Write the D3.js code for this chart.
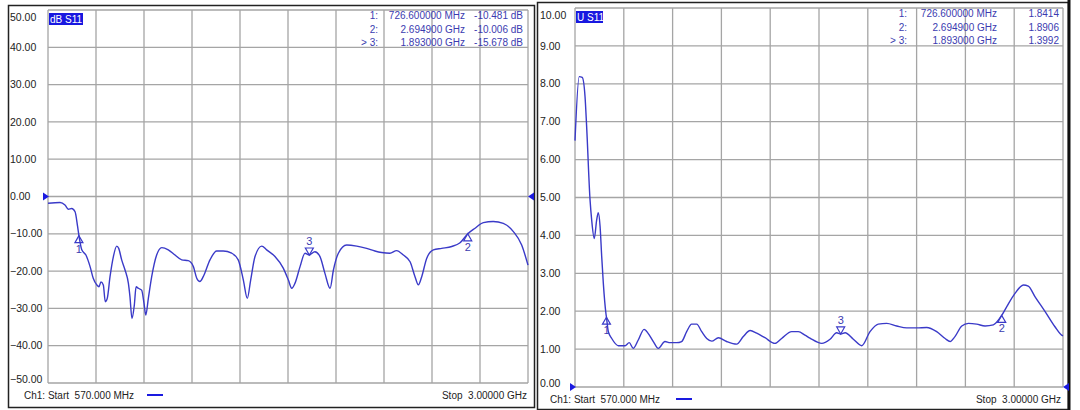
<!DOCTYPE html>
<html>
<head>
<meta charset="utf-8">
<script src="https://cdn.jsdelivr.net/npm/d3@7"></script>
<style>
  body { margin: 0; background: #fff; }
  svg { display: block; font-family: "Liberation Sans", Arial, sans-serif; }
</style>
</head>
<body>
<div id="container"></div>
<script>
/* DATA (frequency in MHz) */
const dbFreq = [570, 631, 656, 673, 690, 707, 720, 726.6, 741, 762, 783, 799, 817, 828, 838, 850, 860, 870, 884, 901,
  918, 928, 943, 960, 977, 985, 995, 1007, 1016, 1027, 1044, 1056, 1065, 1078, 1095, 1120, 1146, 1179, 1213, 1247,
  1280, 1306, 1323, 1339, 1356, 1390, 1424, 1457, 1500, 1533, 1559, 1579, 1596, 1618, 1652, 1677, 1719, 1761, 1787, 1804,
  1820, 1846, 1871, 1893, 1921, 1947, 1972, 1998, 2015, 2040, 2082, 2133, 2183, 2225, 2259, 2301, 2335, 2369, 2403, 2428,
  2445, 2462, 2487, 2521, 2563, 2614, 2656, 2694.9, 2732, 2774, 2824, 2875, 2926, 2968, 3000]
const dbValues = [-1.8, -1.6, -2.3, -3.4, -3.2, -4.1, -8.1, -10.48, -14.3, -15.7, -18.8, -21.9, -23.7, -24.2, -22.9, -23.7, -28.2, -27.3, -21.5, -16.1,
  -13.3, -13.9, -17, -19.7, -23.3, -26.9, -32.7, -29.1, -24.2, -24.6, -25.1, -28.6, -31.8, -27.3, -21.5, -15.7, -13.7, -14.3, -15.7, -17,
  -17.2, -18.8, -21.9, -22.8, -21.5, -17, -14.6, -14.6, -15.2, -17, -22.4, -27.3, -22.4, -16.1, -13.3, -14.3, -16.1, -19.2, -22.4, -24.6,
  -23.3, -18.8, -15.2, -15.68, -14.8, -16.1, -20.6, -24.6, -19.7, -15.2, -13, -13.3, -13.9, -14.6, -15, -15.2, -14.5, -15.7, -17.5, -21.5,
  -23.7, -21.5, -16.6, -14.3, -13.9, -13.4, -12.4, -10.01, -8.5, -7, -6.7, -7.2, -9.4, -13, -18.4]

const swrFreq = [570, 591, 606, 620, 628, 645, 653, 666, 678, 686, 695, 703, 711, 724, 726.6, 736, 753, 786, 819, 840,
  860, 885, 914, 935, 960, 985, 1018, 1043, 1076, 1101, 1126, 1151, 1176, 1201, 1226, 1251, 1284, 1325, 1375, 1408,
  1442, 1475, 1516, 1566, 1599, 1649, 1682, 1715, 1740, 1799, 1840, 1873, 1893, 1915, 1956, 1998, 2039, 2080, 2122, 2172,
  2222, 2272, 2321, 2371, 2413, 2438, 2462, 2496, 2529, 2570, 2612, 2653, 2694.9, 2720, 2761, 2803, 2827, 2861, 2911, 2960,
  2993, 3000]
const swrValues = [6.5, 8.19, 8.17, 7.66, 6.87, 4.93, 4.41, 3.92, 4.41, 4.6, 4.23, 3.44, 2.74, 1.94, 1.84, 1.46, 1.28, 1.09, 1.09, 1.17,
  1.02, 1.24, 1.52, 1.41, 1.2, 1.02, 1.2, 1.17, 1.17, 1.2, 1.46, 1.66, 1.66, 1.46, 1.28, 1.21, 1.3, 1.2, 1.13, 1.33,
  1.49, 1.42, 1.3, 1.15, 1.28, 1.46, 1.46, 1.37, 1.29, 1.15, 1.26, 1.43, 1.4, 1.43, 1.26, 1.09, 1.46, 1.66, 1.68, 1.61,
  1.56, 1.56, 1.57, 1.46, 1.28, 1.2, 1.33, 1.61, 1.68, 1.66, 1.61, 1.64, 1.89, 2.12, 2.47, 2.69, 2.66, 2.38, 1.99, 1.59,
  1.37, 1.35]

const markerNames = ["1", "2", "3"]
const markerPrefix = ["1:", "2:", "> 3:"]
const markerFreq = [726.6, 2694.9, 1893]
const markerFreqText = ["726.600000 MHz", "2.694900 GHz", "1.893000 GHz"]
const markerDb = [-10.481, -10.006, -15.678]
const markerDbText = ["-10.481 dB", "-10.006 dB", "-15.678 dB"]
const markerSwr = [1.8414, 1.8906, 1.3992]
const markerSwrText = ["1.8414", "1.8906", "1.3992"]
const activeMarker = 2

const dbTicks = [50, 40, 30, 20, 10, 0, -10, -20, -30, -40, -50]
const swrTicks = [10, 9, 8, 7, 6, 5, 4, 3, 2, 1, 0]

/* CONSTANTS */
const width = 1080, height = 410
const traceColor = "#3a3ac8"
const textBlue = "#3b3bb0"
const gridColor = "#a5a5a5"

const svg = d3.select("#container")
  .append("svg")
  .attr("width", width)
  .attr("height", height)

svg.append("rect").attr("width", width).attr("height", height).attr("fill", "#fff")

// outer frames
svg.append("rect").attr("x", 8.5).attr("y", 5.5).attr("width", 526).attr("height", 402)
  .attr("fill", "none").attr("stroke", "#222").attr("stroke-width", 1.5)
svg.append("rect").attr("x", 537.5).attr("y", 2.5).attr("width", 531).attr("height", 407)
  .attr("fill", "none").attr("stroke", "#222").attr("stroke-width", 1.5)
svg.append("line").attr("x1", 1069).attr("x2", 1069).attr("y1", 0).attr("y2", 410)
  .attr("stroke", "#111").attr("stroke-width", 3)

function drawPanel(cfg) {
  const g = svg.append("g")

  const xScale = d3.scaleLinear().domain([570, 3000]).range([cfg.x0, cfg.x1])
  const yScale = d3.scaleLinear().domain(cfg.yDomain).range([cfg.y1, cfg.y0])

  // grid
  g.selectAll(".vgrid")
    .data(d3.range(0, 11))
    .join("line")
    .attr("x1", i => cfg.x0 + i * (cfg.x1 - cfg.x0) / 10)
    .attr("x2", i => cfg.x0 + i * (cfg.x1 - cfg.x0) / 10)
    .attr("y1", cfg.y0).attr("y2", cfg.y1)
    .attr("stroke", gridColor).attr("stroke-width", 1.3)

  g.selectAll(".hgrid")
    .data(cfg.ticks)
    .join("line")
    .attr("x1", cfg.x0).attr("x2", cfg.x1)
    .attr("y1", d => yScale(d)).attr("y2", d => yScale(d))
    .attr("stroke", gridColor).attr("stroke-width", 1.3)

  // tick labels
  g.selectAll(".tick")
    .data(cfg.ticks)
    .join("text")
    .attr("x", cfg.labelX)
    .attr("y", d => Math.min(Math.max(yScale(d), cfg.y0 + 7), cfg.y1 - 4))
    .attr("dy", "0.35em")
    .attr("font-size", 10.5)
    .attr("fill", "#222")
    .text(d => d3.format(".2f")(d))

  // title box
  g.append("rect").attr("x", cfg.x0 + 1).attr("y", cfg.y0 + 3)
    .attr("width", cfg.titleW).attr("height", 12).attr("fill", "#1818e0")
  g.append("text").attr("x", cfg.x0 + 2).attr("y", cfg.y0 + 13)
    .attr("font-size", 10).attr("fill", "#fff").text(cfg.title)

  // marker table
  const rows = g.selectAll(".mrow").data(markerNames).join("g")
    .attr("transform", (d, i) => `translate(0, ${cfg.y0 + 9 + i * 13.5})`)
    .attr("font-size", 10).attr("fill", textBlue).attr("text-anchor", "end")
  rows.append("text").attr("x", cfg.col1).text((d, i) => markerPrefix[i])
  rows.append("text").attr("x", cfg.col2).text((d, i) => markerFreqText[i])
  rows.append("text").attr("x", cfg.col3).text((d, i) => cfg.valueText[i])

  // trace
  const line = d3.line()
    .x(d => xScale(d[0]))
    .y(d => yScale(d[1]))
    .curve(d3.curveMonotoneX)
  g.append("path")
    .datum(d3.zip(cfg.freq, cfg.values))
    .attr("fill", "none")
    .attr("stroke", traceColor)
    .attr("stroke-width", 1.4)
    .attr("stroke-linejoin", "round")
    .attr("d", line)

  // markers
  markerNames.forEach((name, i) => {
    const mx = xScale(markerFreq[i]), my = yScale(cfg.markerValues[i])
    const active = i === activeMarker
    const pts = active
      ? [[mx, my], [mx - 4, my - 7], [mx + 4, my - 7]]
      : [[mx, my], [mx - 4, my + 7], [mx + 4, my + 7]]
    g.append("path")
      .attr("d", d3.line()(pts) + "Z")
      .attr("fill", "none").attr("stroke", traceColor).attr("stroke-width", 1.2)
    g.append("text")
      .attr("x", mx).attr("y", active ? my - 10 : my + 17)
      .attr("text-anchor", "middle").attr("font-size", 11).attr("fill", textBlue)
      .text(name)
  })

  // reference arrows
  const ry = yScale(cfg.refValue)
  g.append("path").attr("d", `M${cfg.x0 - 5},${ry - 4}L${cfg.x0 + 1},${ry}L${cfg.x0 - 5},${ry + 4}Z`)
    .attr("fill", "#1a1ae0")
  g.append("path").attr("d", `M${cfg.x1 + 6},${ry - 4}L${cfg.x1},${ry}L${cfg.x1 + 6},${ry + 4}Z`)
    .attr("fill", "#1a1ae0")

  // footer
  g.append("text").attr("x", cfg.startX).attr("y", cfg.footY).attr("font-size", 10).attr("fill", "#222")
    .attr("xml:space", "preserve").text("Ch1: Start  570.000 MHz")
  g.append("line").attr("x1", cfg.legendX).attr("x2", cfg.legendX + 16)
    .attr("y1", cfg.footY - 4).attr("y2", cfg.footY - 4)
    .attr("stroke", "#1a1ae0").attr("stroke-width", 2)
  g.append("text").attr("x", cfg.stopX).attr("y", cfg.footY).attr("font-size", 10).attr("fill", "#222")
    .attr("text-anchor", "end").attr("xml:space", "preserve").text("Stop  3.00000 GHz")
}

drawPanel({
  x0: 48, x1: 528, y0: 10, y1: 383,
  yDomain: [-50, 50], ticks: dbTicks, labelX: 10,
  title: "dB S11", titleW: 34,
  col1: 378, col2: 465, col3: 523, valueText: markerDbText,
  freq: dbFreq, values: dbValues, markerValues: markerDb,
  refValue: 0,
  startX: 24, legendX: 147, stopX: 527, footY: 399
})

drawPanel({
  x0: 575, x1: 1063, y0: 8, y1: 387,
  yDomain: [0, 10], ticks: swrTicks, labelX: 540,
  title: "U S11", titleW: 27,
  col1: 907, col2: 997, col3: 1059, valueText: markerSwrText,
  freq: swrFreq, values: swrValues, markerValues: markerSwr,
  refValue: 0,
  startX: 550, legendX: 676, stopX: 1061, footY: 403
})
</script>
</body>
</html>
